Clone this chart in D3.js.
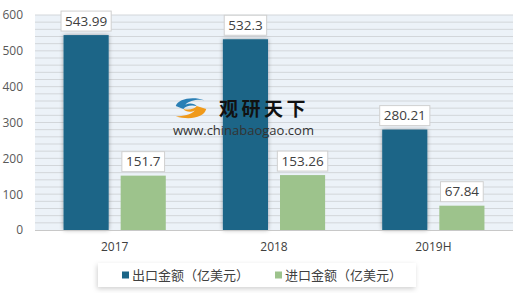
<!DOCTYPE html>
<html lang="zh">
<head>
  <meta charset="UTF-8">
  <title>出口金额与进口金额</title>
  <script src="https://d3js.org/d3.v7.min.js"></script>
  <style>
    body { margin: 0; background: #fff; }
    svg { display: block; }
    text { font-family: "Open Sans", "Noto Sans", "Noto Sans CJK SC", sans-serif; }
    .cjk { font-family: "Noto Sans CJK SC", sans-serif; }
  </style>
</head>
<body>
  <svg width="520" height="293"></svg>

  <script>
    // data
    const years = ["2017", "2018", "2019H"];
    const seriesNames = ["出口金额（亿美元）", "进口金额（亿美元）"];
    const exportValues = [543.99, 532.3, 280.21];
    const importValues = [151.7, 153.26, 67.84];
    const yTicks = [0, 100, 200, 300, 400, 500, 600];

    const colors = ["#1b6587", "#9dc38c"];

    const svg = d3.select("svg");
    const plotL = 35, plotR = 513, plotT = 15, plotB = 230;

    const rows = years.map((yr, i) => ({ year: yr, values: [exportValues[i], importValues[i]] }));

    const defs = svg.append("defs");
    defs.append("filter").attr("id", "shadow")
      .attr("x", "-30%").attr("y", "-10%").attr("width", "160%").attr("height", "120%")
      .append("feDropShadow")
      .attr("dx", 0).attr("dy", 0).attr("stdDeviation", 2)
      .attr("flood-color", "#000").attr("flood-opacity", 0.35);
    defs.append("filter").attr("id", "boxShadow")
      .attr("x", "-10%").attr("y", "-30%").attr("width", "120%").attr("height", "160%")
      .append("feDropShadow")
      .attr("dx", -1).attr("dy", 2).attr("stdDeviation", 2.5)
      .attr("flood-color", "#000").attr("flood-opacity", 0.18);

    // scales
    const x0 = d3.scaleBand().domain(years).range([plotL, plotR]).padding(0);
    const x1 = d3.scaleBand().domain([0, 1]).range([0, x0.bandwidth()])
      .paddingInner(0.21).paddingOuter(0.5);
    const y = d3.scaleLinear().domain([0, 600]).range([plotB, plotT]);

    // plot background + gridlines
    svg.append("rect")
      .attr("x", plotL).attr("y", plotT)
      .attr("width", plotR - plotL).attr("height", plotB - plotT)
      .attr("fill", "#ecf2f8");

    svg.append("g")
      .selectAll("line")
      .data(d3.range(20, 601, 20))
      .join("line")
      .attr("x1", plotL).attr("x2", plotR)
      .attr("y1", d => y(d)).attr("y2", d => y(d))
      .attr("stroke", "#d2d6da").attr("stroke-width", 1);

    // y axis
    const yAxis = svg.append("g")
      .attr("transform", `translate(${plotL - 12}, 0)`)
      .call(d3.axisLeft(y).tickValues(yTicks).tickSize(0).tickPadding(0));
    yAxis.select(".domain").remove();
    yAxis.selectAll("text").attr("font-size", 12).attr("fill", "#595959")
      .attr("font-family", "\"Open Sans\", sans-serif");

    // bars
    const groups = svg.append("g")
      .selectAll("g")
      .data(rows)
      .join("g")
      .attr("transform", d => `translate(${x0(d.year)}, 0)`);

    groups.selectAll("rect")
      .data(d => d.values.map((v, i) => ({ v, i })))
      .join("rect")
      .attr("x", d => x1(d.i))
      .attr("y", d => y(d.v))
      .attr("width", x1.bandwidth())
      .attr("height", d => y(0) - y(d.v))
      .attr("fill", d => colors[d.i])
      .attr("filter", d => d.i === 0 ? "url(#shadow)" : null);

    // value labels
    const labels = groups.selectAll("g.lbl")
      .data(d => d.values.map((v, i) => ({ v, i })))
      .join("g")
      .attr("class", "lbl")
      .attr("transform", d => `translate(${x1(d.i) + x1.bandwidth() / 2}, ${y(d.v) - 14})`);

    labels.append("rect").attr("class", "bg");
    labels.append("text")
      .attr("text-anchor", "middle")
      .attr("dy", "0.35em")
      .attr("font-size", 13.5)
      .attr("fill", "#404040")
      .text(d => String(d.v));

    labels.each(function () {
      const g = d3.select(this);
      const bb = g.select("text").node().getBBox();
      const w = bb.width + 8;
      g.select("rect.bg")
        .attr("x", -w / 2).attr("y", -10)
        .attr("width", w).attr("height", 20)
        .attr("fill", "#fff")
        .attr("stroke", "#d0d0d0").attr("stroke-width", 1);
    });

    // baseline
    svg.append("line")
      .attr("x1", plotL).attr("x2", plotR)
      .attr("y1", plotB + 0.5).attr("y2", plotB + 0.5)
      .attr("stroke", "#c8c8c8");

    // x axis
    const xAxis = svg.append("g")
      .attr("transform", `translate(0, ${plotB})`)
      .call(d3.axisBottom(x0).tickSize(0).tickPadding(12));
    xAxis.select(".domain").remove();
    xAxis.selectAll("text").attr("font-size", 12).attr("fill", "#404040")
      .attr("font-family", "\"Open Sans\", sans-serif");

    // watermark
    const logo = svg.append("g").attr("transform", "translate(172, 96) scale(0.95, 0.72)");
    logo.append("path")
      .attr("d", "M4,14 C6,4 22,0 34,6 C28,4 18,6 14,12 C18,9 24,10 26,14 C20,12 14,14 12,18 Z")
      .attr("fill", "#2a7fb5");
    logo.append("path")
      .attr("d", "M36,18 C34,30 18,34 4,28 C12,28 20,26 24,20 C20,23 14,22 12,18 C18,20 24,18 26,14 Z")
      .attr("fill", "#f09a1a");
    svg.append("text")
      .attr("class", "cjk")
      .attr("x", 219).attr("y", 116)
      .attr("font-size", 19).attr("font-weight", 700)
      .attr("fill", "#111")
      .attr("letter-spacing", 3.5)
      .text("观研天下");
    svg.append("text")
      .attr("x", 173).attr("y", 135)
      .attr("font-size", 13)
      .attr("font-family", "\"Liberation Sans\", Arial, sans-serif")
      .attr("fill", "#333")
      .text("www.chinabaogao.com");

    // legend
    const legend = svg.append("g");
    legend.append("rect")
      .attr("x", 98).attr("y", 263)
      .attr("width", 318).attr("height", 24)
      .attr("fill", "#fff")
      .attr("filter", "url(#boxShadow)");

    const legendX = [122, 275];
    const items = legend.selectAll("g.item")
      .data(seriesNames)
      .join("g")
      .attr("class", "item")
      .attr("transform", (d, i) => `translate(${legendX[i]}, 275)`);
    items.append("rect")
      .attr("x", 0).attr("y", -3.5)
      .attr("width", 7).attr("height", 7)
      .attr("fill", (d, i) => colors[i]);
    items.append("text")
      .attr("class", "cjk")
      .attr("x", 10).attr("dy", "0.35em")
      .attr("font-size", 13)
      .attr("fill", "#404040")
      .text(d => d);
  </script>
</body>
</html>
